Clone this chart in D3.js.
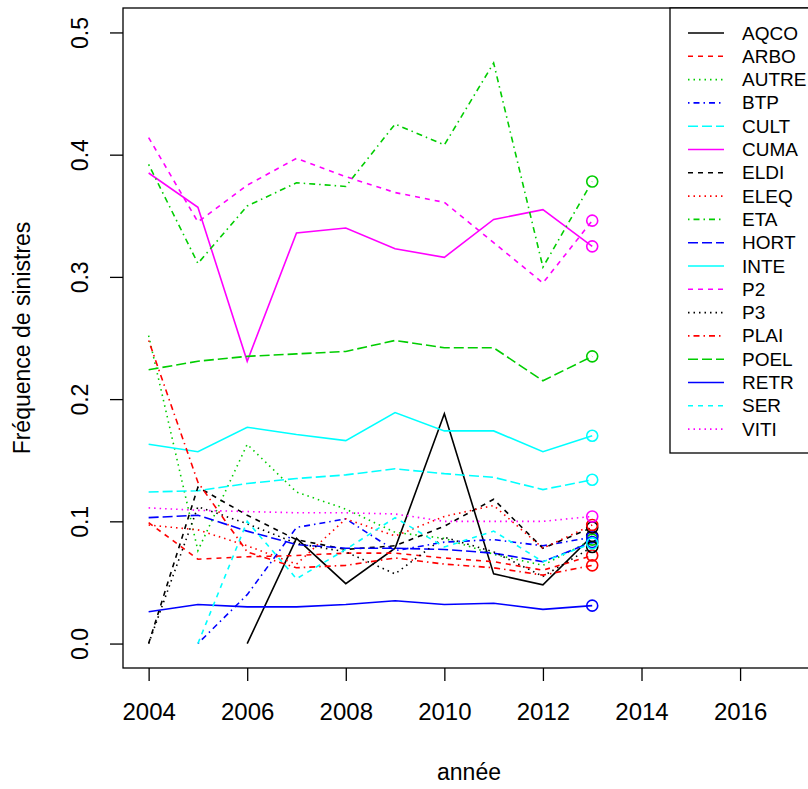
<!DOCTYPE html>
<html>
<head>
<meta charset="utf-8">
<script src="https://cdn.jsdelivr.net/npm/d3@7"></script>
<style>
  body { margin: 0; background: #fff; }
  text { font-family: "Liberation Sans", Arial, sans-serif; fill: #000; }
</style>
</head>
<body>
<div id="chart"></div>
<script>
// années observées
const years = [2004, 2005, 2006, 2007, 2008, 2009, 2010, 2011, 2012, 2013];

// fréquence de sinistres par catégorie (null = pas de donnée)
const AQCO  = [null, null, 0.000, 0.086, 0.049, 0.078, 0.188, 0.057, 0.048, 0.088];
const ARBO  = [0.099, 0.069, 0.071, 0.072, 0.074, 0.074, 0.070, 0.067, 0.060, 0.072];
const AUTRE = [0.252, 0.076, 0.163, 0.124, 0.110, 0.091, 0.086, 0.073, 0.064, 0.085];
const BTP   = [null, 0.000, 0.040, 0.095, 0.102, 0.076, 0.083, 0.085, 0.080, 0.087];
const CULT  = [0.124, 0.125, 0.131, 0.135, 0.138, 0.143, 0.139, 0.136, 0.126, 0.134];
const CUMA  = [0.385, 0.357, 0.231, 0.336, 0.340, 0.323, 0.316, 0.347, 0.355, 0.325];
const ELDI  = [0.000, 0.128, 0.105, 0.085, 0.077, 0.080, 0.096, 0.118, 0.078, 0.095];
const ELEQ  = [0.097, 0.093, 0.080, 0.065, 0.102, 0.088, 0.104, 0.113, 0.078, 0.097];
const ETA   = [0.392, 0.311, 0.358, 0.377, 0.374, 0.425, 0.408, 0.475, 0.308, 0.378];
const HORT  = [0.103, 0.105, 0.092, 0.081, 0.078, 0.078, 0.077, 0.074, 0.067, 0.083];
const INTE  = [0.163, 0.157, 0.177, 0.171, 0.166, 0.189, 0.174, 0.174, 0.157, 0.170];
const P2    = [0.414, 0.345, 0.375, 0.397, 0.382, 0.369, 0.361, 0.328, 0.295, 0.346];
const P3    = [0.000, 0.112, 0.098, 0.082, 0.075, 0.057, 0.087, 0.075, 0.055, 0.079];
const PLAI  = [0.248, 0.132, 0.075, 0.062, 0.064, 0.070, 0.065, 0.062, 0.056, 0.064];
const POEL  = [0.224, 0.231, 0.235, 0.237, 0.239, 0.248, 0.242, 0.242, 0.215, 0.235];
const RETR  = [0.026, 0.032, 0.030, 0.030, 0.032, 0.035, 0.032, 0.033, 0.028, 0.031];
const SER   = [null, 0.000, 0.100, 0.053, 0.077, 0.103, 0.079, 0.092, 0.067, 0.082];
const VITI  = [0.111, 0.109, 0.108, 0.107, 0.107, 0.106, 0.100, 0.100, 0.100, 0.104];

const seriesNames = ["AQCO", "ARBO", "AUTRE", "BTP", "CULT", "CUMA", "ELDI", "ELEQ", "ETA",
                     "HORT", "INTE", "P2", "P3", "PLAI", "POEL", "RETR", "SER", "VITI"];
const seriesValues = [AQCO, ARBO, AUTRE, BTP, CULT, CUMA, ELDI, ELEQ, ETA,
                      HORT, INTE, P2, P3, PLAI, POEL, RETR, SER, VITI];

const xTicks = [2004, 2006, 2008, 2010, 2012, 2014, 2016];
const yTicks = [0.0, 0.1, 0.2, 0.3, 0.4, 0.5];

// palette et types de trait façon matplot (col 1:6, lty 1:5)
const colors = ["#000000", "#FF0000", "#00CD00", "#0000FF", "#00FFFF", "#FF00FF"];
const dashes = [null, "5,5", "1.5,4", "1.5,4,6,4", "10,4"];

const width = 808, height = 789;
const plotLeft = 123, plotRight = 815, plotTop = 8, plotBottom = 668;

const svg = d3.select("#chart").append("svg")
  .attr("width", width)
  .attr("height", height);

// xlim c(2004, 2017), ylim c(0, 0.5), étendus de 4 %
const xScale = d3.scaleLinear().domain([2003.48, 2017.52]).range([plotLeft, plotRight]);
const yScale = d3.scaleLinear().domain([-0.02, 0.52]).range([plotBottom, plotTop]);

// axe x
const xAxis = svg.append("g")
  .attr("transform", `translate(0, ${plotBottom})`)
  .call(d3.axisBottom(xScale).tickValues(xTicks).tickSize(13).tickPadding(22).tickFormat(d3.format("d")));
xAxis.select(".domain").remove();
xAxis.selectAll("line").attr("stroke", "#000").attr("stroke-width", 1.3);
xAxis.selectAll("text").attr("font-size", 24).attr("font-family", "Liberation Sans, Arial, sans-serif");

// axe y, étiquettes verticales
const yAxis = svg.append("g")
  .attr("transform", `translate(${plotLeft}, 0)`)
  .call(d3.axisLeft(yScale).tickValues(yTicks).tickSize(13).tickFormat(d3.format(".1f")));
yAxis.select(".domain").remove();
yAxis.selectAll("line").attr("stroke", "#000").attr("stroke-width", 1.3);
yAxis.selectAll("text")
  .attr("font-size", 23)
  .attr("font-family", "Liberation Sans, Arial, sans-serif")
  .attr("text-anchor", "middle")
  .attr("x", 0).attr("dy", 0)
  .attr("transform", "translate(-43, 0) rotate(-90)")
  .attr("dominant-baseline", "central");

// cadre
svg.append("rect")
  .attr("x", plotLeft).attr("y", plotTop)
  .attr("width", plotRight - plotLeft).attr("height", plotBottom - plotTop)
  .attr("fill", "none").attr("stroke", "#000").attr("stroke-width", 1.3);

// titres
svg.append("text")
  .attr("x", (plotLeft + plotRight) / 2)
  .attr("y", 780)
  .attr("text-anchor", "middle")
  .attr("font-size", 23)
  .text("année");

svg.append("text")
  .attr("transform", `translate(30, ${(plotTop + plotBottom) / 2}) rotate(-90)`)
  .attr("text-anchor", "middle")
  .attr("font-size", 23)
  .text("Fréquence de sinistres");

// courbes
const line = d3.line()
  .defined(d => d.v !== null)
  .x(d => xScale(d.year))
  .y(d => yScale(d.v));

const plot = svg.append("g");

seriesNames.forEach((name, i) => {
  const pts = years.map((year, j) => ({ year, v: seriesValues[i][j] }));
  plot.append("path")
    .datum(pts)
    .attr("fill", "none")
    .attr("stroke", colors[i % 6])
    .attr("stroke-width", 1.6)
    .attr("stroke-dasharray", dashes[i % 5])
    .attr("d", line);
});

// points de la dernière année
seriesNames.forEach((name, i) => {
  const last = years.length - 1;
  plot.append("circle")
    .attr("cx", xScale(years[last]))
    .attr("cy", yScale(seriesValues[i][last]))
    .attr("r", 5.5)
    .attr("fill", "none")
    .attr("stroke", colors[i % 6])
    .attr("stroke-width", 1.6);
});

// légende
const legend = svg.append("g");
legend.append("rect")
  .attr("x", 670).attr("y", plotTop)
  .attr("width", 160).attr("height", 453 - plotTop)
  .attr("fill", "#fff").attr("stroke", "#000").attr("stroke-width", 1.3);

seriesNames.forEach((name, i) => {
  const y = 33 + i * 23.3;
  legend.append("line")
    .attr("x1", 688).attr("x2", 724)
    .attr("y1", y).attr("y2", y)
    .attr("stroke", colors[i % 6])
    .attr("stroke-width", 1.6)
    .attr("stroke-dasharray", dashes[i % 5]);
  legend.append("text")
    .attr("x", 742).attr("y", y)
    .attr("dominant-baseline", "central")
    .attr("font-size", 19)
    .text(name);
});
</script>
</body>
</html>
